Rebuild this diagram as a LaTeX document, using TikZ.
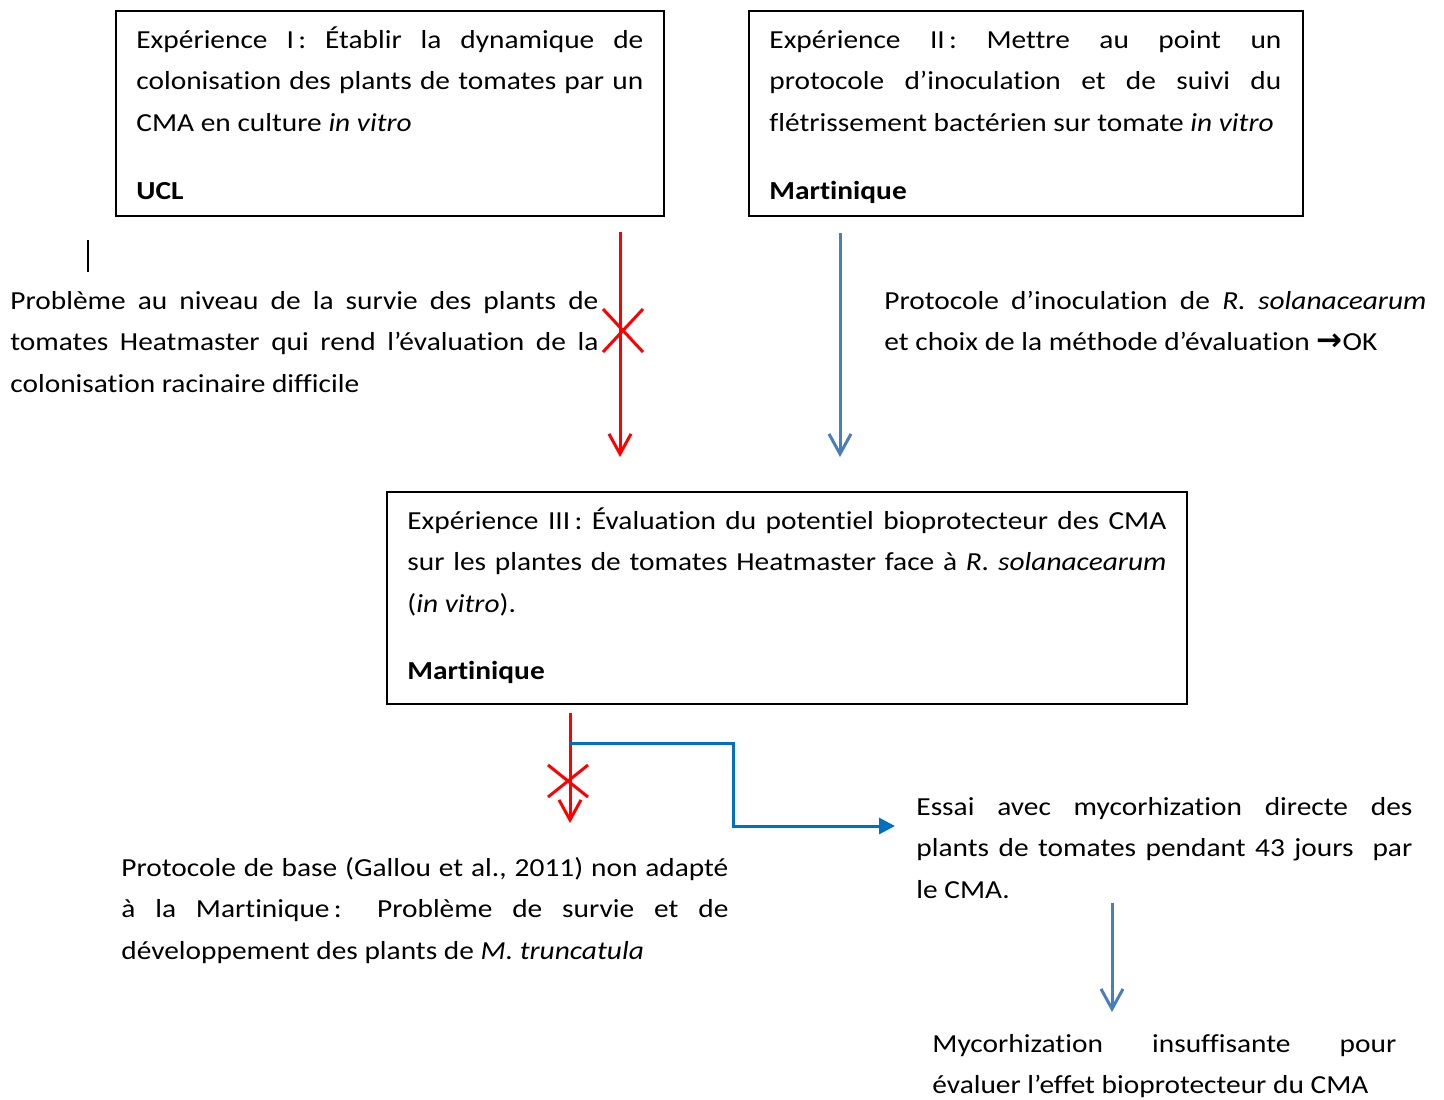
\documentclass[tikz,border=0pt]{standalone}
\usepackage{fontspec}
\setmainfont[Ligatures={NoCommon},FakeStretch=1.13]{Carlito}
\newfontfamily\symf{DejaVu Sans}
\usetikzlibrary{arrows.meta}
\definecolor{redc}{RGB}{255,0,0}
\definecolor{steel}{RGB}{74,126,187}
\definecolor{bluec}{RGB}{0,112,192}
\newcommand{\mainsz}{\fontsize{13pt}{20.75pt}\selectfont}
\newcommand{\okarrow}{{\symf\bfseries\fontsize{15.5pt}{15.5pt}\selectfont\char"2192}}
\begin{document}
\begin{tikzpicture}[x=0.5pt,y=-0.5pt,
  frame/.style={draw=black,line width=1pt,anchor=north west,inner sep=0pt},
  txt/.style={anchor=north west,inner sep=0pt,align=justify,font=\mainsz},
  lbl/.style={anchor=base west,inner sep=0pt,font=\mainsz\bfseries},
  redarrow/.style={draw=redc,line width=1.5pt,-{Straight Barb[length=10pt,width=11pt]}},
  redline/.style={draw=redc,line width=1.5pt},
  steelarrow/.style={draw=steel,line width=1.5pt,-{Straight Barb[length=10pt,width=11pt]}},
  bluearrow/.style={draw=bluec,line width=1.5pt,-{Triangle[length=8pt,width=8pt]}}]
\useasboundingbox (0,0) rectangle (1444,1099);

% Box 1
\node[frame,minimum width=274pt,minimum height=102.5pt] (b1) at (115,10) {};
\node[txt,text width=253.5pt] (b1t) at (136,19) {\strut Expérience I\,: Établir la dynamique de\linebreak colonisation des plants de tomates par un\linebreak CMA en culture \textit{in vitro}};
\node[lbl] (b1l) at (136,199) {UCL};

% Box 2
\node[frame,minimum width=277pt,minimum height=102.5pt] (b2) at (748,10) {};
\node[txt,text width=256pt] (b2t) at (769,19) {\strut Expérience II\,: Mettre au point un\linebreak protocole d’inoculation et de suivi du\linebreak flétrissement bactérien sur tomate \textit{in vitro}};
\node[lbl] (b2l) at (769,199) {Martinique};

% stray mark
\coordinate (m1) at (88,240);
\coordinate (m2) at (88,272);
\draw[line width=1pt] (m1) -- (m2);

% left problem text
\node[txt,text width=294pt] (p1) at (10,280) {\strut Problème au niveau de la survie des plants de\linebreak tomates Heatmaster qui rend l’évaluation de la\linebreak colonisation racinaire difficile};

% right ok text
\node[txt,text width=271pt] (ok1) at (884,280) {\strut Protocole d’inoculation de \textit{R. solanacearum}\linebreak et choix de la méthode d’évaluation \okarrow OK};

% red arrow 1 with cross
\coordinate (r1s) at (620,232);
\coordinate (r1e) at (620,457);
\draw[redarrow] (r1s) -- (r1e);
\coordinate (x1a) at (603,309);
\coordinate (x1b) at (643,352);
\coordinate (x1c) at (603,352);
\coordinate (x1d) at (643,309);
\draw[redline] (x1a) -- (x1b) (x1c) -- (x1d);

% steel arrow 1
\coordinate (s1s) at (840,233);
\coordinate (s1e) at (840,457);
\draw[steelarrow] (s1s) -- (s1e);

% Box 3
\node[frame,minimum width=400pt,minimum height=106pt] (b3) at (386,491) {};
\node[txt,text width=379.5pt] (b3t) at (407,500) {\strut Expérience III\,: Évaluation du potentiel bioprotecteur des CMA\linebreak sur les plantes de tomates Heatmaster face à \textit{R. solanacearum}\linebreak (\textit{in vitro}).};
\node[lbl] (b3l) at (407,679) {Martinique};

% red arrow 2 with cross
\coordinate (r2s) at (570,713);
\coordinate (r2e) at (570,823);
\draw[redarrow] (r2s) -- (r2e);
\coordinate (x2a) at (548,765);
\coordinate (x2b) at (588,797);
\coordinate (x2c) at (548,797);
\coordinate (x2d) at (588,765);
\draw[redline] (x2a) -- (x2b) (x2c) -- (x2d);

% blue elbow arrow
\coordinate (e1) at (570,743);
\coordinate (e2) at (733,743);
\coordinate (e3) at (733,826);
\coordinate (e4) at (895,826);
\draw[bluearrow] (e1) -- (e2) -- (e3) -- (e4);

% bottom left text
\node[txt,text width=303.5pt] (p2) at (121,847) {\strut Protocole de base (Gallou et al., 2011) non adapté\linebreak à la Martinique\,: Problème de survie et de\linebreak développement des plants de \textit{M. truncatula}};

% essai text
\node[txt,text width=248pt] (es) at (916,786) {\strut Essai avec mycorhization directe des\linebreak plants de tomates pendant 43 jours\ \ par\linebreak le CMA.};

% steel arrow 2
\coordinate (s2s) at (1112,903);
\coordinate (s2e) at (1112,1012);
\draw[steelarrow] (s2s) -- (s2e);

% mycorhization text
\node[txt,text width=232pt] (my) at (932,1023) {\strut Mycorhization insuffisante pour\linebreak évaluer l’effet bioprotecteur du CMA};
\end{tikzpicture}
\end{document}
